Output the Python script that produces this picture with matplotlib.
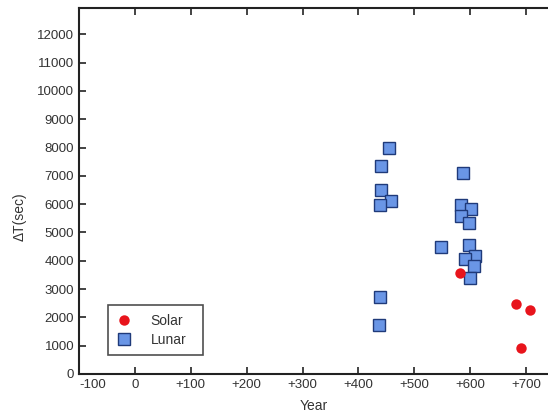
import matplotlib
matplotlib.use("Agg")
import matplotlib.pyplot as plt

plt.rcParams["font.family"] = ["Liberation Sans", "DejaVu Sans"]

# Lunar observations (year, delta T in seconds)
lunar_year = [454, 441, 440, 458, 439, 438, 436,
              587, 584, 601, 583, 597, 548, 598, 608, 591, 606, 600]
lunar_dt = [7970, 7350, 6490, 6110, 5960, 2720, 1720,
            7100, 5960, 5820, 5590, 5340, 4500, 4570, 4180, 4070, 3800, 3380]

# Solar observations
solar_year = [582, 682, 706, 690]
solar_dt = [3555, 2485, 2260, 930]

x_ticks = [-100, 0, 100, 200, 300, 400, 500, 600, 700]
x_labels = ["-100", "0", "+100", "+200", "+300", "+400", "+500", "+600", "+700"]
y_ticks = list(range(0, 13000, 1000))

fig = plt.figure(figsize=(5.48, 4.16), dpi=100)
ax = fig.add_axes([79 / 548, 42 / 416, 469 / 548, 366 / 416])

ax.plot(solar_year, solar_dt, "o", color="#e8141c", markersize=7.5,
        markeredgewidth=0, label="Solar", zorder=3)
ax.plot(lunar_year, lunar_dt, "s", color="#6a96e6", markersize=8,
        markeredgecolor="#1f3a7a", markeredgewidth=1.0, label="Lunar", zorder=2)

ax.set_xlim(-100, 739)
ax.set_ylim(0, 12930)
ax.set_xticks(x_ticks)
ax.set_xticklabels(x_labels)
ax.get_xticklabels()[0].set_horizontalalignment("left")
ax.set_yticks(y_ticks)

ax.tick_params(direction="in", length=5, width=1.2, labelsize=9.5,
               top=True, right=False, colors="#222222", labelcolor="#333333")
for side in ["left", "bottom", "top"]:
    ax.spines[side].set_linewidth(1.5)
    ax.spines[side].set_color("#222222")
ax.spines["right"].set_visible(False)

ax.set_xlabel("Year", fontsize=10, color="#333333", labelpad=6)
ax.set_ylabel("\u0394T(sec)", fontsize=10, color="#333333")
ax.yaxis.set_label_coords(-0.112, 0.43)

leg = ax.legend(loc="lower left", bbox_to_anchor=(0.061, 0.052, 0.203, 0.14),
                mode="expand", borderaxespad=0, fancybox=False,
                edgecolor="#222222", fontsize=10, handletextpad=1.3,
                borderpad=0.6, labelspacing=0.35, handlelength=1.2)
leg.get_frame().set_linewidth(1.2)
for t in leg.get_texts():
    t.set_color("#333333")

fig.savefig("out.png", dpi=100)
